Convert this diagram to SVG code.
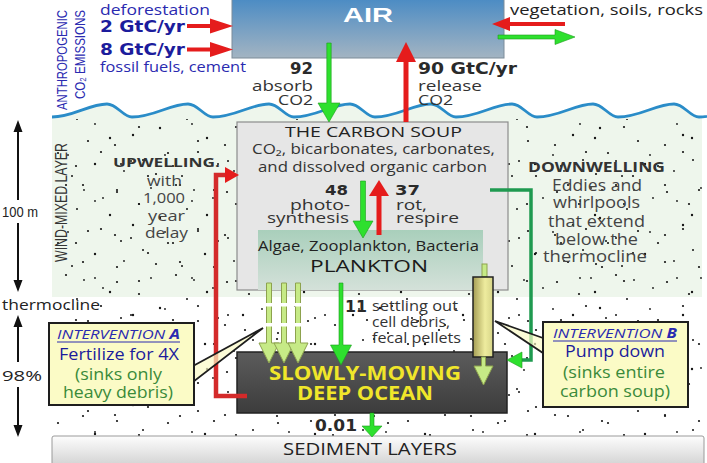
<svg xmlns="http://www.w3.org/2000/svg" width="707" height="463" viewBox="0 0 707 463">
<defs>
<style>
text{font-family:"Open Sans","Liberation Sans",sans-serif;}
.n{font-family:"DejaVu Sans","Liberation Sans",sans-serif;font-weight:bold;fill:#2a2a2a;}
.lab{font-family:"Liberation Sans",Arial,sans-serif;}
.blue{fill:#2a2ab0;}
.nb{fill:#1c1c9c;}
.dk{fill:#333;}
.red{fill:#e51c1c;}
.grn{fill:#2ee02e;stroke:#1c9c1c;stroke-width:0.6;}
.lg{fill:#c6ea86;stroke:#8da24e;stroke-width:1;}
.call{fill:#fbfbc6;stroke:#1e1e1e;stroke-width:2;}
.wedge{fill:#fbfbc6;fill-opacity:0.7;stroke:#1e1e1e;stroke-width:1.8;}
.gap{fill:#fff;}
.sub{fill:#3a8a3a;}
.dot{fill:#141414;}
</style>
<linearGradient id="air" x1="0" y1="0" x2="0" y2="1"><stop offset="0" stop-color="#4a8bc4"/><stop offset="1" stop-color="#a3b4c2"/></linearGradient>
<linearGradient id="plk" x1="0" y1="0" x2="0" y2="1"><stop offset="0" stop-color="#a9cfbb"/><stop offset="1" stop-color="#d4e1d9"/></linearGradient>
<linearGradient id="deep" x1="0" y1="0" x2="0" y2="1"><stop offset="0" stop-color="#5c5c5c"/><stop offset="1" stop-color="#3c3c3c"/></linearGradient>
<linearGradient id="sed" x1="0" y1="0" x2="0" y2="1"><stop offset="0" stop-color="#fdfdfd"/><stop offset="1" stop-color="#d2d2d2"/></linearGradient>
<linearGradient id="pipe" x1="0" y1="0" x2="1" y2="0"><stop offset="0" stop-color="#a49c54"/><stop offset="0.6" stop-color="#eeec9e"/><stop offset="1" stop-color="#d6d488"/></linearGradient>
<pattern id="d1" width="110" height="90" patternUnits="userSpaceOnUse">
<circle class="dot" cx="7" cy="12" r="1.1"/><circle class="dot" cx="23" cy="45" r="1.2"/><circle class="dot" cx="41" cy="8" r="0.9"/><circle class="dot" cx="58" cy="63" r="1.1"/><circle class="dot" cx="77" cy="29" r="1"/><circle class="dot" cx="95" cy="74" r="1.2"/><circle class="dot" cx="14" cy="81" r="0.9"/><circle class="dot" cx="66" cy="5" r="1.1"/><circle class="dot" cx="88" cy="51" r="1.1"/><circle class="dot" cx="33" cy="70" r="1"/><circle class="dot" cx="50" cy="38" r="1.2"/><circle class="dot" cx="103" cy="18" r="0.9"/><circle class="dot" cx="5" cy="55" r="1.1"/><circle class="dot" cx="72" cy="86" r="1"/><circle class="dot" cx="29" cy="24" r="1.1"/><circle class="dot" cx="84" cy="10" r="0.9"/><circle class="dot" cx="46" cy="84" r="1.1"/>
</pattern>
<pattern id="d2" x="31" y="17" width="97" height="77" patternUnits="userSpaceOnUse">
<circle class="dot" cx="11" cy="33" r="1.1"/><circle class="dot" cx="37" cy="61" r="0.9"/><circle class="dot" cx="52" cy="14" r="1.1"/><circle class="dot" cx="79" cy="44" r="1.2"/><circle class="dot" cx="90" cy="70" r="1"/><circle class="dot" cx="20" cy="5" r="1.1"/><circle class="dot" cx="64" cy="30" r="0.9"/><circle class="dot" cx="45" cy="72" r="1.1"/><circle class="dot" cx="3" cy="67" r="1"/><circle class="dot" cx="70" cy="58" r="1.1"/><circle class="dot" cx="86" cy="19" r="1.1"/>
</pattern>
</defs>

<rect width="707" height="463" fill="#fff"/>

<g id="ocean-background">
<path d="M52,117 C73,117 89,104 107,104 C117,104 123,117 132,117 C154,117 170,104 188,104 C198,104 204,117 213,117 C235,117 251,104 269,104 C279,104 285,117 294,117 C316,117 332,104 350,104 C360,104 366,117 375,117 C397,117 413,104 431,104 C441,104 447,117 456,117 C478,117 494,104 512,104 C522,104 528,117 537,117 C559,117 575,104 593,104 C603,104 609,117 618,117 C640,117 656,104 674,104 C684,104 690,117 699,117 L702,117 L702,297 L52,297 Z" fill="#eef6ec"/>
<rect x="52" y="119" width="650" height="318" fill="url(#d1)"/>
<rect x="52" y="119" width="650" height="318" fill="url(#d2)"/>
<path d="M52,117 C73,117 89,104 107,104 C117,104 123,117 132,117 C154,117 170,104 188,104 C198,104 204,117 213,117 C235,117 251,104 269,104 C279,104 285,117 294,117 C316,117 332,104 350,104 C360,104 366,117 375,117 C397,117 413,104 431,104 C441,104 447,117 456,117 C478,117 494,104 512,104 C522,104 528,117 537,117 C559,117 575,104 593,104 C603,104 609,117 618,117 C640,117 656,104 674,104 C684,104 690,117 699,117 C721,117 737,104 755,104" fill="none" stroke="#2a8cc8" stroke-width="2.8"/>
</g>

<g id="air">
<rect x="232" y="-2" width="272" height="60" fill="url(#air)" stroke="#7d8c99" stroke-width="1"/>
<text x="343" y="22" class="lab" font-size="20" font-weight="bold" fill="#fff" textLength="50" lengthAdjust="spacingAndGlyphs">AIR</text>
</g>

<g id="anthropogenic">
<text transform="translate(67,110) rotate(-90)" class="lab blue" font-size="15" textLength="100" lengthAdjust="spacingAndGlyphs">ANTHROPOGENIC</text>
<text transform="translate(85,99) rotate(-90)" class="lab blue" font-size="15" textLength="89" lengthAdjust="spacingAndGlyphs">CO₂ EMISSIONS</text>
<text x="100" y="15" class="blue" font-size="14.5" textLength="110" lengthAdjust="spacingAndGlyphs">deforestation</text>
<text x="100" y="32" class="n" font-size="15" textLength="85" lengthAdjust="spacingAndGlyphs" style="fill:#1c1c9c">2 GtC/yr</text>
<text x="100" y="55" class="n" font-size="15" textLength="85" lengthAdjust="spacingAndGlyphs" style="fill:#1c1c9c">8 GtC/yr</text>
<text x="100" y="72" class="blue" font-size="15" textLength="146" lengthAdjust="spacingAndGlyphs">fossil fuels, cement</text>
</g>

<g id="land">
<text x="510" y="15" font-size="14.5" fill="#222" textLength="193" lengthAdjust="spacingAndGlyphs">vegetation, soils, rocks</text>
</g>

<g id="exchange-labels">
<text x="290" y="74" class="n" font-size="15" textLength="23" lengthAdjust="spacingAndGlyphs">92</text>
<text x="252" y="91" class="dk" font-size="14.5" textLength="61" lengthAdjust="spacingAndGlyphs">absorb</text>
<text x="278" y="104.5" class="dk" font-size="14.5" textLength="35" lengthAdjust="spacingAndGlyphs">CO2</text>
<text x="418" y="74" class="n" font-size="15" textLength="99" lengthAdjust="spacingAndGlyphs">90 GtC/yr</text>
<text x="418" y="91" class="dk" font-size="14.5" textLength="64" lengthAdjust="spacingAndGlyphs">release</text>
<text x="418" y="104.5" class="dk" font-size="14.5" textLength="35" lengthAdjust="spacingAndGlyphs">CO2</text>
</g>

<g id="depth-scale">
<path d="M18,128 V200 M18,223 V284 M18,323 V362 M18,387 V429" stroke="#111" stroke-width="2" fill="none"/>
<path d="M18,120 L13.5,132 L22.5,132 Z M18,292 L13.5,280 L22.5,280 Z M18,315 L13.5,327 L22.5,327 Z M18,437 L13.5,425 L22.5,425 Z" fill="#111"/>
<text x="2" y="217" class="lab" font-size="14" fill="#222" textLength="36" lengthAdjust="spacingAndGlyphs">100 m</text>
<text x="2" y="310" font-size="15" fill="#222" textLength="98" lengthAdjust="spacingAndGlyphs">thermocline</text>
<text x="2" y="381" font-size="15" fill="#222" textLength="40" lengthAdjust="spacingAndGlyphs">98%</text>
<text transform="translate(67,262) rotate(-90)" class="lab" font-size="16" fill="#333" textLength="119" lengthAdjust="spacingAndGlyphs">WIND-MIXED LAYER</text>
</g>

<g id="carbon-soup">
<rect x="237" y="122" width="271" height="168" fill="#e6e6e6" stroke="#8c8c8c" stroke-width="1.2"/>
<text x="285" y="137" font-size="15" fill="#222" textLength="177" lengthAdjust="spacingAndGlyphs">THE CARBON SOUP</text>
<text x="252" y="154" font-size="14" fill="#333" textLength="243" lengthAdjust="spacingAndGlyphs">CO₂, bicarbonates, carbonates,</text>
<text x="258" y="172" font-size="14" fill="#333" textLength="229" lengthAdjust="spacingAndGlyphs">and dissolved organic carbon</text>
</g>

<g id="plankton">
<rect x="258" y="230" width="225" height="60" fill="url(#plk)"/>
<text x="258" y="251" font-size="14" fill="#222" textLength="221" lengthAdjust="spacingAndGlyphs">Algae, Zooplankton, Bacteria</text>
<text x="310" y="272" font-size="17" fill="#1a1a1a" textLength="118" lengthAdjust="spacingAndGlyphs">PLANKTON</text>
</g>

<g id="deep-ocean">
<rect x="237" y="352" width="270" height="61" fill="url(#deep)" stroke="#222" stroke-width="1.5"/>
<text x="269" y="380" font-size="19" font-weight="bold" fill="#f0e62a" textLength="192" lengthAdjust="spacingAndGlyphs">SLOWLY-MOVING</text>
<text x="297" y="400" font-size="19" font-weight="bold" fill="#f0e62a" textLength="136" lengthAdjust="spacingAndGlyphs">DEEP OCEAN</text>
</g>

<g id="sediment">
<rect x="52" y="436" width="652" height="30" rx="2" fill="url(#sed)" stroke="#9a9a9a"/>
<text x="283" y="455" font-size="16" fill="#222" textLength="174" lengthAdjust="spacingAndGlyphs">SEDIMENT LAYERS</text>
</g>

<g id="pump">
<rect x="482" y="264" width="5" height="13" class="lg"/>
<rect x="473" y="277" width="20" height="80" fill="url(#pipe)" stroke="#222" stroke-width="1.5"/>
</g>

<g id="upwelling-label">
<text x="113" y="167" font-size="13" font-weight="bold" fill="#333" textLength="107" lengthAdjust="spacingAndGlyphs">UPWELLING.</text>
<text x="147" y="186" font-size="15" fill="#444" textLength="35" lengthAdjust="spacingAndGlyphs">with</text>
<text x="143" y="203" font-size="15" fill="#444" textLength="42" lengthAdjust="spacingAndGlyphs">1,000</text>
<text x="148" y="220.5" font-size="15" fill="#444" textLength="37" lengthAdjust="spacingAndGlyphs">year</text>
<text x="145" y="238" font-size="15" fill="#444" textLength="43" lengthAdjust="spacingAndGlyphs">delay</text>
</g>

<g id="downwelling-label">
<text x="528" y="172" font-size="13.5" font-weight="bold" fill="#333" textLength="137" lengthAdjust="spacingAndGlyphs">DOWNWELLING</text>
<text x="552" y="191" font-size="15.5" fill="#444" textLength="90" lengthAdjust="spacingAndGlyphs">Eddies and</text>
<text x="553" y="208" font-size="15.5" fill="#444" textLength="87" lengthAdjust="spacingAndGlyphs">whirlpools</text>
<text x="548" y="227" font-size="15.5" fill="#444" textLength="97" lengthAdjust="spacingAndGlyphs">that extend</text>
<text x="555" y="245" font-size="15.5" fill="#444" textLength="83" lengthAdjust="spacingAndGlyphs">below the</text>
<text x="543" y="262" font-size="15.5" fill="#444" textLength="104" lengthAdjust="spacingAndGlyphs">thermocline</text>
</g>

<g id="flux-labels">
<text x="325" y="195" class="n" font-size="14.5" textLength="23" lengthAdjust="spacingAndGlyphs">48</text>
<text x="290" y="209.5" class="dk" font-size="14.5" textLength="60" lengthAdjust="spacingAndGlyphs">photo-</text>
<text x="267" y="223" class="dk" font-size="14.5" textLength="82" lengthAdjust="spacingAndGlyphs">synthesis</text>
<text x="395" y="195" class="n" font-size="14.5" textLength="25" lengthAdjust="spacingAndGlyphs">37</text>
<text x="396" y="209.5" class="dk" font-size="14.5" textLength="31" lengthAdjust="spacingAndGlyphs">rot,</text>
<text x="396" y="223" class="dk" font-size="14.5" textLength="63" lengthAdjust="spacingAndGlyphs">respire</text>
<text x="345" y="312" class="n" font-size="15" textLength="22" lengthAdjust="spacingAndGlyphs">11</text>
<text x="372" y="311" class="dk" font-size="14" textLength="86" lengthAdjust="spacingAndGlyphs">settling out</text>
<text x="372" y="327" class="dk" font-size="14" textLength="78" lengthAdjust="spacingAndGlyphs">cell debris,</text>
<text x="372" y="343" class="dk" font-size="14" textLength="89" lengthAdjust="spacingAndGlyphs">fecal pellets</text>
<text x="315" y="431" class="n" font-size="16" textLength="42" lengthAdjust="spacingAndGlyphs">0.01</text>
</g>

<g id="connectors">
<path class="red" d="M187,24 H210 V18.5 L233,26 L210,33.5 V28 H187 Z"/>
<path class="red" d="M187,47.5 H210 V42 L233,49.5 L210,57 V51.5 H187 Z"/>
<path class="red" d="M565,22 H510 V17 L492,24 L510,31 V26 H565 Z"/>
<path class="grn" d="M498,35 H555 V29.5 L575,37 L555,44.5 V39 H498 Z"/>
<path class="grn" d="M326.8,43 V103 H318 L329,122 L340,103 H331.2 V43 Z"/>
<path class="red" d="M403.5,122 V62 H396 L406,42 L416,62 H408.5 V122 Z"/>
<path class="grn" d="M360.5,181 V221 H353 L363,238 L373,221 H365.5 V181 Z"/>
<path class="red" d="M376.5,235 V196 H369 L379,180 L389,196 H381.5 V235 Z"/>
<polyline points="247,396 216,396 216,175 227,175" fill="none" stroke="#d42a2a" stroke-width="4.5"/>
<path class="red" d="M225,167 L239,175 L225,183 Z"/>
<polyline points="490,190 531,190 531,360 520,360" fill="none" stroke="#1f9a50" stroke-width="3.5"/>
<path class="grn" d="M522,352 L507,360 L522,368 Z"/>
<path class="grn" d="M339,283 V345 H330.5 L341,365 L351.5,345 H343 V283 Z"/>
<path class="grn" d="M370,413 V426 H362 L372,437 L382,426 H374 V413 Z"/>
<path class="lg" d="M266.5,283 V343 H259 L269,363 L279,343 H271.5 V283 Z"/>
<path class="lg" d="M281.5,283 V343 H274 L284,363 L294,343 H286.5 V283 Z"/>
<path class="lg" d="M295.5,283 V343 H288 L298,363 L308,343 H300.5 V283 Z"/>
<rect class="gap" x="265" y="303" width="38" height="3.5"/>
<rect class="gap" x="265" y="323" width="38" height="3.5"/>
<path class="lg" d="M481.5,357 V366 H474 L483.5,385 L493,366 H485.5 V357 Z"/>
</g>

<g id="intervention-a">
<polygon class="wedge" points="193,366 263,328 193,382"/>
<rect class="call" x="49" y="323" width="145" height="82"/>
<text x="57" y="339" font-size="13.5" font-style="italic" class="blue" textLength="123" lengthAdjust="spacingAndGlyphs">INTERVENTION <tspan font-weight="bold">A</tspan></text>
<line x1="57" y1="342" x2="180" y2="342" stroke="#2a2ab0" stroke-width="1"/>
<text x="59" y="360" font-size="16" class="nb" textLength="120" lengthAdjust="spacingAndGlyphs">Fertilize for 4X</text>
<text x="75" y="380" font-size="16" class="sub" textLength="87" lengthAdjust="spacingAndGlyphs">(sinks only</text>
<text x="63" y="398" font-size="16" class="sub" textLength="110" lengthAdjust="spacingAndGlyphs">heavy debris)</text>
</g>

<g id="intervention-b">
<polygon class="wedge" points="543,338 495,321 543,353"/>
<rect class="call" x="543" y="322" width="145" height="85"/>
<text x="553" y="338" font-size="13.5" font-style="italic" class="blue" textLength="124" lengthAdjust="spacingAndGlyphs">INTERVENTION <tspan font-weight="bold">B</tspan></text>
<line x1="553" y1="341" x2="677" y2="341" stroke="#2a2ab0" stroke-width="1"/>
<text x="565" y="357" font-size="16" class="nb" textLength="100" lengthAdjust="spacingAndGlyphs">Pump down</text>
<text x="563" y="378" font-size="16" class="sub" textLength="102" lengthAdjust="spacingAndGlyphs">(sinks entire</text>
<text x="560" y="397" font-size="16" class="sub" textLength="110" lengthAdjust="spacingAndGlyphs">carbon soup)</text>
</g>
</svg>
